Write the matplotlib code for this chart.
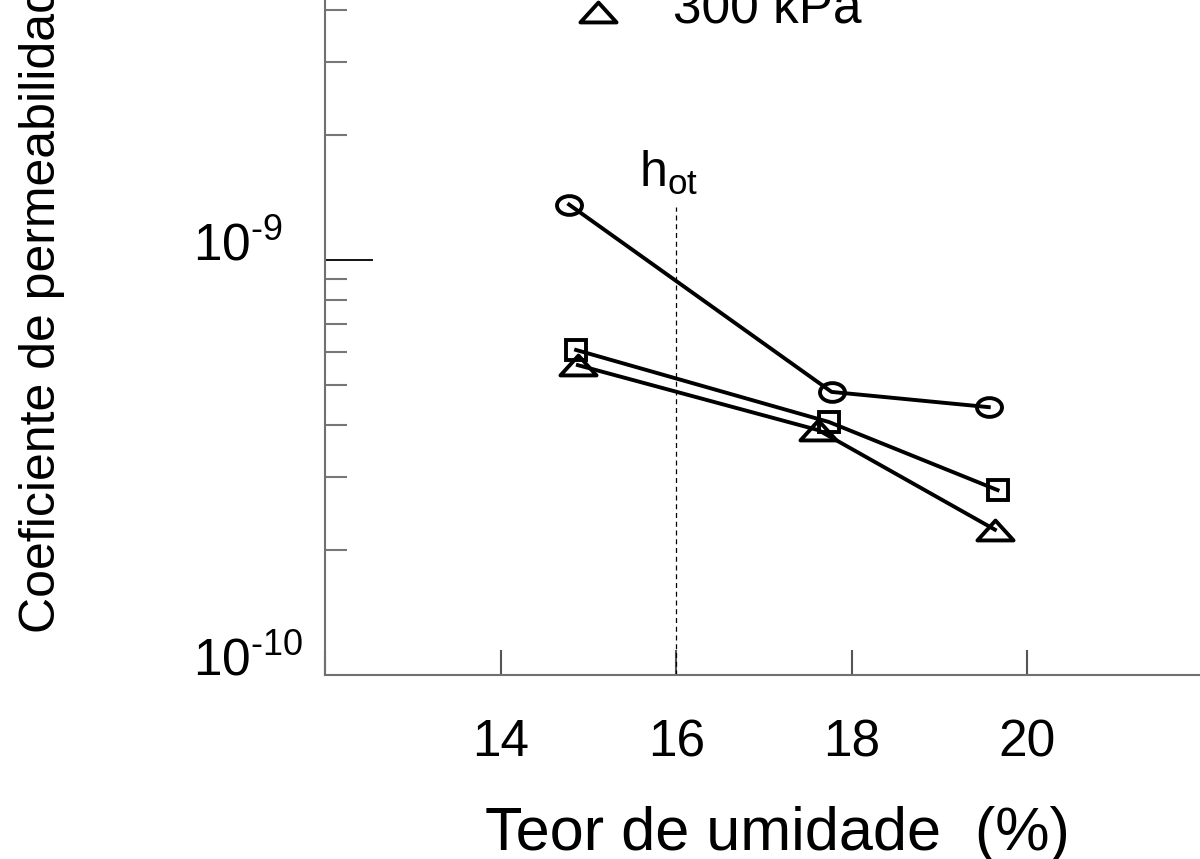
import matplotlib
matplotlib.use("Agg")
import matplotlib.pyplot as plt
import numpy as np
from matplotlib.path import Path
from matplotlib.transforms import Affine2D
from matplotlib.lines import Line2D
from matplotlib.ticker import FixedLocator, LogLocator, NullFormatter, FuncFormatter

plt.rcParams['font.family'] = ['Liberation Sans', 'DejaVu Sans']
plt.rcParams['mathtext.fontset'] = 'custom'
plt.rcParams['mathtext.rm'] = 'Liberation Sans'
plt.rcParams['mathtext.it'] = 'Liberation Sans:italic'
plt.rcParams['mathtext.bf'] = 'Liberation Sans:bold'

# moisture content (%) and permeability for each confining stress
w_100 = [14.78, 17.77, 19.56]
k_100 = [1.36e-9, 4.81e-10, 4.42e-10]
w_200 = [14.86, 17.74, 19.66]
k_200 = [6.07e-10, 4.07e-10, 2.79e-10]
w_300 = [14.88, 17.62, 19.63]
k_300 = [5.58e-10, 3.89e-10, 2.24e-10]
stress_labels = ['100 kPa', '200 kPa', '300 kPa']

# optimum moisture content marker
h_ot = 16.0
h_ot_top = 1.34e-9

x_ticks = [12, 14, 16, 18, 20, 22]
x_ticklabels = ['', '14', '16', '18', '20', '']


def pow10(val, pos):
    # short hyphen in the exponent instead of a math minus
    exp = int(round(np.log10(val)))
    sign = '\u2010' if exp < 0 else ''
    return r'$\mathregular{10^{%s%d}}$' % (sign, abs(exp))


# open marker shapes: flat ellipse, square, wide triangle
ellipse = Path.unit_circle().transformed(Affine2D().scale(1.0, 0.75))
triangle = Path([(-1, -0.55), (1, -0.55), (0, 0.55), (-1, -0.55)], closed=True)
styles = [(ellipse, 18), ('s', 14), (triangle, 26)]

fig = plt.figure(figsize=(12, 8.59), dpi=100)
ax = fig.add_axes([325 / 1200, 184 / 859, 878 / 1200, 830 / 859])

series = [(w_100, k_100), (w_200, k_200), (w_300, k_300)]
handles = []
for (w, k), (mk, ms), lab in zip(series, styles, stress_labels):
    ax.plot(w, k, color='k', lw=2.8, marker=mk, ms=ms, mfc='none',
            mec='k', mew=2.8, zorder=3)
    handles.append(Line2D([], [], ls='none', marker=mk, ms=ms, mfc='none',
                          mec='k', mew=2.8))

ax.plot([h_ot, h_ot], [1e-10, h_ot_top], color='k', lw=0.9, ls=(0, (4, 3)))
ax.text(15.58, 1.5e-9, r'h$_{\mathregular{ot}}$', fontsize=36,
        ha='left', va='baseline')

ax.set_yscale('log')
ax.set_xlim(12, 22)
ax.set_ylim(1e-10, 1e-8)
ax.yaxis.set_major_locator(FixedLocator([1e-10, 1e-9, 1e-8]))
ax.yaxis.set_major_formatter(FuncFormatter(pow10))
ax.yaxis.set_minor_locator(LogLocator(base=10, subs=range(2, 10)))
ax.yaxis.set_minor_formatter(NullFormatter())
ax.set_xticks(x_ticks)
ax.set_xticklabels(x_ticklabels)

ax.tick_params(axis='y', which='major', direction='in', length=34.5,
               width=1.3, color='k', labelsize=37, pad=95)
ax.tick_params(axis='y', which='minor', direction='in', length=16,
               width=1.5, color='#777777')
ax.tick_params(axis='x', which='major', direction='in', length=18,
               width=1.5, color='#555555', labelsize=37, pad=31)
plt.setp(ax.get_yticklabels(), ha='left', va='baseline')

for side in ['top', 'right']:
    ax.spines[side].set_visible(False)
for side in ['left', 'bottom']:
    ax.spines[side].set_color('#707070')
    ax.spines[side].set_linewidth(1.5)

ax.legend(handles, stress_labels, loc='lower left',
          bbox_to_anchor=(572.5 / 1200, 0.9615), bbox_transform=fig.transFigure,
          fontsize=37, frameon=False, borderpad=0, borderaxespad=0,
          handlelength=1.0, handleheight=-0.3, handletextpad=0.95,
          labelspacing=0.3)

fig.text(777 / 1200, 1 - 850 / 859, 'Teor de umidade  (%)', fontsize=44,
         ha='center', va='baseline')
fig.text(42 / 1200, 1 - 633 / 859, 'Coeficiente de permeabilidade  (m/s)',
         fontsize=36, rotation=90, ha='center', va='bottom')

fig.savefig('out.png', dpi=100)
